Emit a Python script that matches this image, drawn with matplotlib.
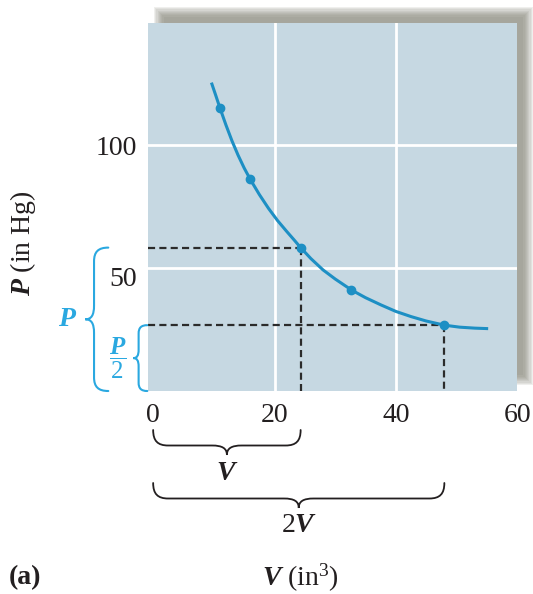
import numpy as np
import matplotlib.pyplot as plt
from matplotlib.path import Path
from matplotlib.patches import PathPatch, Rectangle
from matplotlib.transforms import IdentityTransform, ScaledTranslation

plt.rcParams['font.family'] = 'Liberation Serif'
plt.rcParams['mathtext.fontset'] = 'custom'
plt.rcParams['mathtext.rm'] = 'Liberation Serif'
plt.rcParams['mathtext.it'] = 'Liberation Serif:italic:bold'
plt.rcParams['mathtext.bf'] = 'Liberation Serif:bold'

# measured points (V in in^3, P in inches of Hg)
V_pts = [10.96, 16.03, 24.3, 32.68, 47.98]
P_pts = [115.3, 86.2, 58.4, 41.1, 26.8]

# curve traced through the picture
curve_V = [9.6, 10.3, 11.0, 12.0, 13.0, 14.0, 15.0, 16.0, 17.5, 19.0, 20.5, 22.0, 23.2,
           24.3, 26.0, 28.0, 30.0, 32.7, 35.0, 37.5, 40.0, 42.5, 45.0, 48.0, 50.5, 53.0, 55.2]
curve_P = [125.6, 120.5, 115.3, 108.3, 101.8, 96.0, 90.8, 86.2, 80.0, 74.4, 69.4, 65.0, 61.6,
           58.4, 53.9, 49.3, 45.6, 41.1, 38.0, 35.1, 32.4, 30.3, 28.5, 26.8, 26.0, 25.6, 25.4]

x_ticks = [0, 20, 40, 60]
y_ticks = [50, 100]
grid_V = [20, 40]
grid_P = [50, 100]

# the two states marked with dashed lines: (V, P) and (2V, P/2)
state_V = [24.3, 47.98]
state_P = [58.4, 26.8]

ink = '#231f20'
bg = '#c6d8e2'
curve_blue = '#1d8fc4'
brace_blue = '#2aa8e0'

W, H = 533, 594
fig = plt.figure(figsize=(W / 100, H / 100), dpi=100)
ax = fig.add_axes([148.3 / W, 1 - 391 / H, (517.3 - 148.3) / W, (391 - 22.7) / H])
ax.set_xlim(-0.8, 60)
ax.set_ylim(0, 150)
ax.set_facecolor(bg)
for s in ax.spines.values():
    s.set_visible(False)

# soft drop shadow behind the plot panel (top and right)
for k in range(9):
    grow = 5 - k * 1.2
    fig.add_artist(Rectangle((159 - grow, H - 380 - grow), 369 + 2 * grow, 368 + 2 * grow,
                             facecolor='#85857a', edgecolor='none', alpha=0.13,
                             transform=IdentityTransform(), zorder=-5))

for v in grid_V:
    ax.axvline(v, color='white', lw=2, zorder=1)
for p in grid_P:
    ax.axhline(p, color='white', lw=2, zorder=1)

ax.set_xticks(x_ticks)
ax.set_yticks(y_ticks)
ax.tick_params(length=0, labelsize=20, colors=ink)
ax.tick_params(axis='x', pad=9)
ax.tick_params(axis='y', pad=8)
# the "50" sits a little below its grid line in the original
ylabels = ax.get_yticklabels()
ylabels[0].set_transform(ylabels[0].get_transform() + ScaledTranslation(0, -6 / 72, fig.dpi_scale_trans))

xmin = ax.get_xlim()[0]
for v, p in zip(state_V, state_P):
    ax.plot([xmin, v], [p, p], color='#2b2b2b', lw=1.6, ls=(0, (3.2, 1.9)), zorder=2)
    ax.plot([v, v], [p, 0], color='#2b2b2b', lw=1.6, ls=(0, (3.2, 1.9)), zorder=2)

ax.plot(curve_V, curve_P, color=curve_blue, lw=2.2, solid_capstyle='butt',
        solid_joinstyle='round', zorder=3)
ax.plot(V_pts, P_pts, 'o', color=curve_blue, ms=6, zorder=4)


def brace(p0, p1, depth, color, lw):
    # curly brace in pixel space from p0 to p1, tip on the right-hand side
    p0 = np.asarray(p0, float)
    p1 = np.asarray(p1, float)
    d = p1 - p0
    L = np.hypot(*d)
    u = d / L
    n = np.array([u[1], -u[0]])
    h = depth * 0.62
    c = min(depth * 0.6, L / 5)
    m = L / 2
    st = [(0, 0),
          (0, h * 0.7), (c * 0.3, h), (c, h),
          (m - c, h),
          (m - c * 0.3, h), (m, h + (depth - h) * 0.3), (m, depth),
          (m, h + (depth - h) * 0.3), (m + c * 0.3, h), (m + c, h),
          (L - c, h),
          (L - c * 0.3, h), (L, h * 0.7), (L, 0)]
    codes = [Path.MOVETO] + [Path.CURVE4] * 3 + [Path.LINETO] + [Path.CURVE4] * 6 + \
            [Path.LINETO] + [Path.CURVE4] * 3
    verts = [p0 + s * u + t * n for s, t in st]
    fig.add_artist(PathPatch(Path(verts, codes), fill=False, edgecolor=color, lw=lw,
                             transform=IdentityTransform(), capstyle='round'))


to_px = ax.transData.transform
bottom_px = to_px((0, 0))[1]
left_px = ax.transAxes.transform((0, 0))[0]

# braces under the V axis
brace((to_px((0, 0))[0], bottom_px - 39), (to_px((state_V[0], 0))[0], bottom_px - 39), 25, ink, 1.3)
brace((to_px((0, 0))[0], bottom_px - 92), (to_px((state_V[1], 0))[0], bottom_px - 92), 25, ink, 1.3)
ax.annotate('$V$', xy=(state_V[0] / 2, 0), xytext=(0, -82 * 0.72), textcoords='offset points',
            ha='center', va='center', fontsize=20, color=ink, annotation_clip=False)
ax.annotate('2$V$', xy=(state_V[1] / 2, 0), xytext=(0, -134 * 0.72), textcoords='offset points',
            ha='center', va='center', fontsize=20, color=ink, annotation_clip=False)

# braces beside the P axis
brace((left_px - 40, to_px((0, state_P[0]))[1]), (left_px - 40, bottom_px), 23, brace_blue, 1.5)
brace((left_px - 1, to_px((0, state_P[1]))[1]), (left_px - 1, bottom_px), 14, brace_blue, 1.5)
ax.annotate('$P$', xy=(xmin, state_P[0] / 2), xytext=(-81 * 0.72, 0), textcoords='offset points',
            ha='center', va='center', fontsize=20, color=brace_blue, annotation_clip=False)
ax.annotate(r'$\dfrac{P}{2}$', xy=(xmin, state_P[1] / 2), xytext=(-31 * 0.72, 0),
            textcoords='offset points', ha='center', va='center', fontsize=18,
            color=brace_blue, annotation_clip=False)

ax.text(-0.34, 0.402, '$P$ (in Hg)', transform=ax.transAxes, rotation=90,
        ha='center', va='center', fontsize=20, color=ink)
ax.text(0.411, -0.508, '$V$ (in$^3$)', transform=ax.transAxes,
        ha='center', va='center', fontsize=20, color=ink)
ax.text(-0.334, -0.508, '(a)', transform=ax.transAxes, ha='center', va='center',
        fontsize=20, fontweight='bold', color=ink)

fig.savefig('out.png', dpi=100)
